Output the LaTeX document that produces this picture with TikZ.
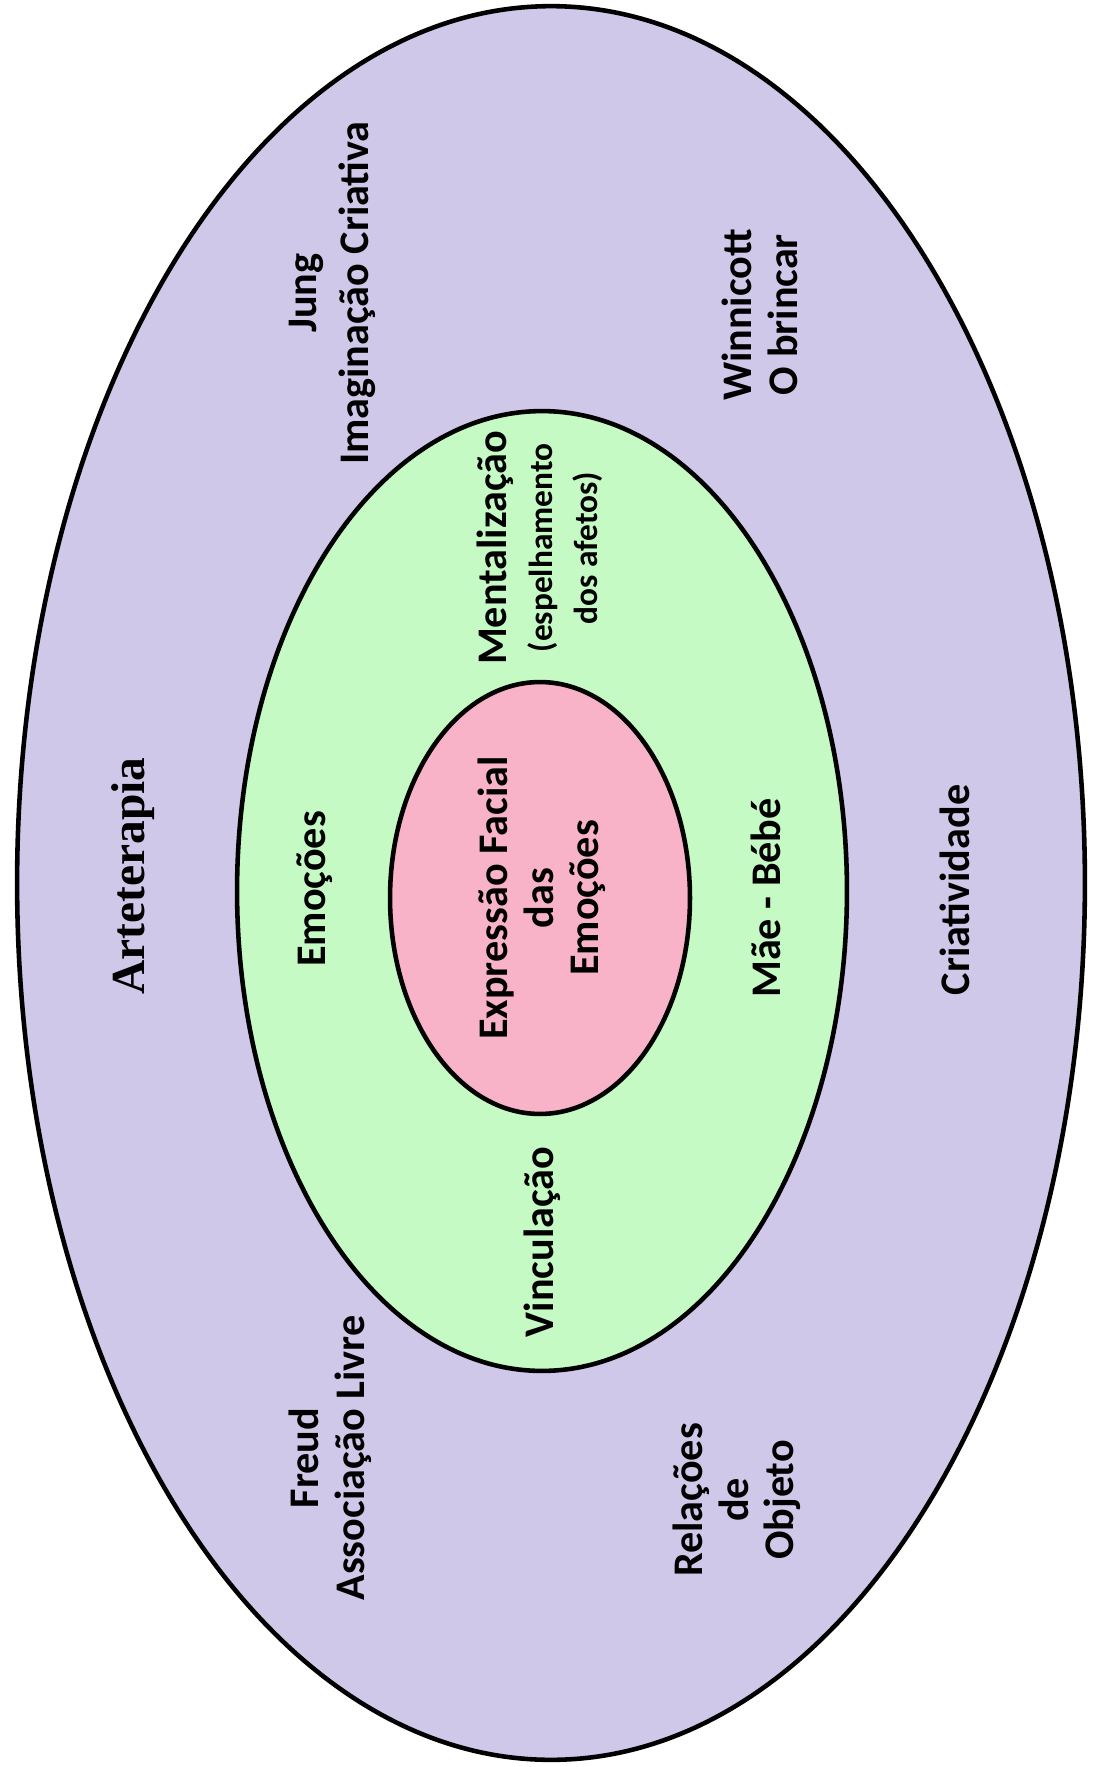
\documentclass[tikz,border=0pt]{standalone}
\usepackage{fontspec}
\setsansfont{Carlito}
\setmainfont{Liberation Serif}
\usetikzlibrary{shapes.geometric, positioning}

\definecolor{lavanda}{RGB}{207,200,233}
\definecolor{verdeclaro}{RGB}{197,250,196}
\definecolor{rosa}{RGB}{248,179,200}

\newcommand{\smalltxt}{\fontsize{19}{21}\selectfont}

\begin{document}
\begin{tikzpicture}[
      x=0.02cm, y=-0.02cm,
      ring/.style={
          draw,
          ellipse,
          line width=2.6pt,
          inner sep=0pt
      },
      lbl/.style={
          rotate=90,
          align=center,
          inner sep=0pt,
          font=\sffamily\bfseries\fontsize{24}{26}\selectfont
      }
  ]
      \useasboundingbox (0, 0) rectangle (1096, 1767);

      % --- Rings ---
      \node[ring, fill=lavanda, minimum width=21.36cm, minimum height=35.08cm] (outer) at (551, 883) {};
      \node[ring, fill=verdeclaro, minimum width=12.2cm, minimum height=19.2cm] (middle) at (542, 891) {};
      \node[ring, fill=rosa, minimum width=6.0cm, minimum height=8.64cm] (inner) at (540, 898) {};

      % --- Outer ring ---
      \node[rotate=90, font=\rmfamily\bfseries\fontsize{27}{30}\selectfont] (arte) at (133, 876) {Arteterapia};
      \node[lbl, font=\sffamily\bfseries\fontsize{24}{29.5}\selectfont] (jung) at (332, 293) {Jung\\Imaginação Criativa};
      \node[lbl] (winni) at (760, 315) {Winnicott\\O brincar};
      \node[lbl] (criat) at (955, 890) {Criatividade};
      \node[lbl] (freud) at (330, 1458) {Freud\\Associação Livre};
      \node[lbl] (relac) at (737, 1500) {Relações\\de\\Objeto};

      % --- Middle ring ---
      \node[lbl] (mental) at (540, 548) {Mentalização\\{\smalltxt(espelhamento}\\{\smalltxt dos afetos)}};
      \node[lbl] (emoc) at (315, 889) {Emoções};
      \node[lbl] (maebebe) at (766, 898) {Mãe - Bébé};
      \node[lbl] (vincul) at (542, 1242) {Vinculação};

      % --- Inner ring ---
      \node[lbl] (expr) at (542, 898) {Expressão Facial\\das\\Emoções};

  \end{tikzpicture}
\end{document}
